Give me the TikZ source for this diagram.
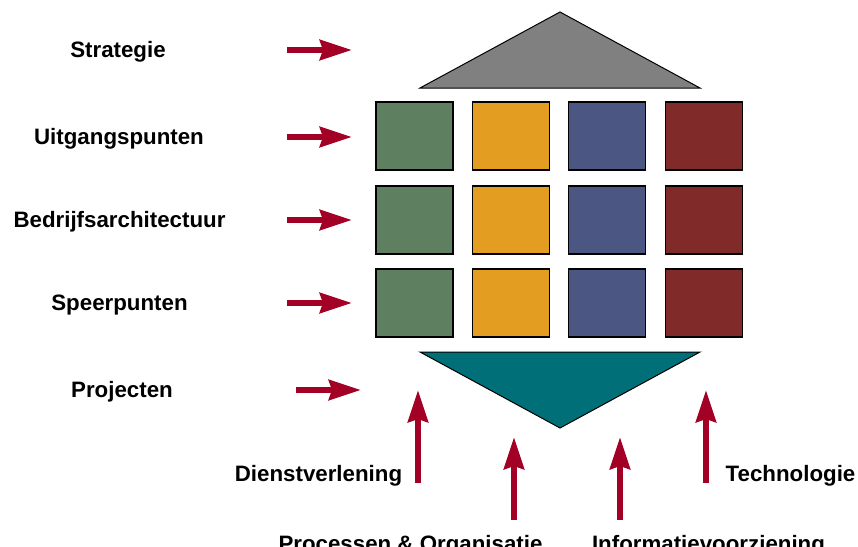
\documentclass[tikz,border=0pt]{standalone}
\usepackage{fontspec}
\setmainfont{Liberation Sans}
\usepackage{xcolor}
\usetikzlibrary{arrows.meta, positioning, calc}

\definecolor{pointred}{RGB}{163,0,38}
\definecolor{roofgray}{RGB}{128,128,128}
\definecolor{cellgreen}{RGB}{95,128,96}
\definecolor{cellorange}{RGB}{227,158,33}
\definecolor{cellblue}{RGB}{76,86,130}
\definecolor{cellred}{RGB}{128,42,42}
\definecolor{baseteal}{RGB}{0,111,120}

\begin{document}
\begin{tikzpicture}[
        x=1pt, y=-1pt,
        >={Stealth[length=32pt, width=20pt, inset=3pt]},
        lbl/.style={anchor=base, font=\bfseries\fontsize{22.3}{25}\selectfont},
        pointer/.style={->, draw=pointred, fill=pointred, line width=6pt},
        cell/.style={draw, line width=1.2pt, minimum width=77pt, minimum height=68pt, inner sep=0pt}
    ]
    \useasboundingbox (0,0) rectangle (858,546);
    \clip (0,0) rectangle (858,546);

    % --- Roof and base ---
    \coordinate (roofL) at (420,88);
    \coordinate (roofT) at (560,12);
    \coordinate (roofR) at (700,88);
    \draw[fill=roofgray, line width=1pt] (roofL) -- (roofT) -- (roofR) -- cycle;

    \coordinate (baseL) at (420,352);
    \coordinate (baseB) at (560,428);
    \coordinate (baseR) at (700,352);
    \draw[fill=baseteal, line width=1pt] (baseL) -- (baseB) -- (baseR) -- cycle;

    % --- Grid of cells ---
    \foreach \row/\y in {1/136, 2/220, 3/303} {
        \node[cell, fill=cellgreen]  (c\row a) at (414.5,\y) {};
        \node[cell, fill=cellorange] (c\row b) at (511,\y) {};
        \node[cell, fill=cellblue]   (c\row c) at (607,\y) {};
        \node[cell, fill=cellred]    (c\row d) at (704,\y) {};
    }

    % --- Layer labels with their pointers ---
    \foreach \name/\txt/\x/\y/\s in {strat/Strategie/118/50/287,
                                    uitg/Uitgangspunten/119/137/287,
                                    bedr/Bedrijfsarchitectuur/119.5/220/287,
                                    speer/Speerpunten/119.5/303/287,
                                    proj/Projecten/122/390/296} {
        \node[lbl] (\name) at (\x,\y+7) {\txt};
        \coordinate (\name-from) at (\s,\y);
        \coordinate (\name-to) at (\s+65,\y);
        \draw[pointer] (\name-from) -- (\name-to);
    }

    % --- Aspect labels with their pointers ---
    \node[lbl] (dienst) at (318.5,481) {Dienstverlening};
    \node[lbl] (techn) at (790.5,481) {Technologie};
    \node[lbl] (proc) at (410.5,551) {Processen \& Organisatie};
    \node[lbl] (info) at (708.5,551) {Informatievoorziening};

    \coordinate (dienst-from) at (418,483);
    \coordinate (dienst-to) at (418,390);
    \coordinate (techn-from) at (706,483);
    \coordinate (techn-to) at (706,390);
    \coordinate (proc-from) at (514,520);
    \coordinate (proc-to) at (514,437);
    \coordinate (info-from) at (620,520);
    \coordinate (info-to) at (620,437);

    \draw[pointer] (dienst-from) -- (dienst-to);
    \draw[pointer] (techn-from) -- (techn-to);
    \draw[pointer] (proc-from) -- (proc-to);
    \draw[pointer] (info-from) -- (info-to);

\end{tikzpicture}
\end{document}
